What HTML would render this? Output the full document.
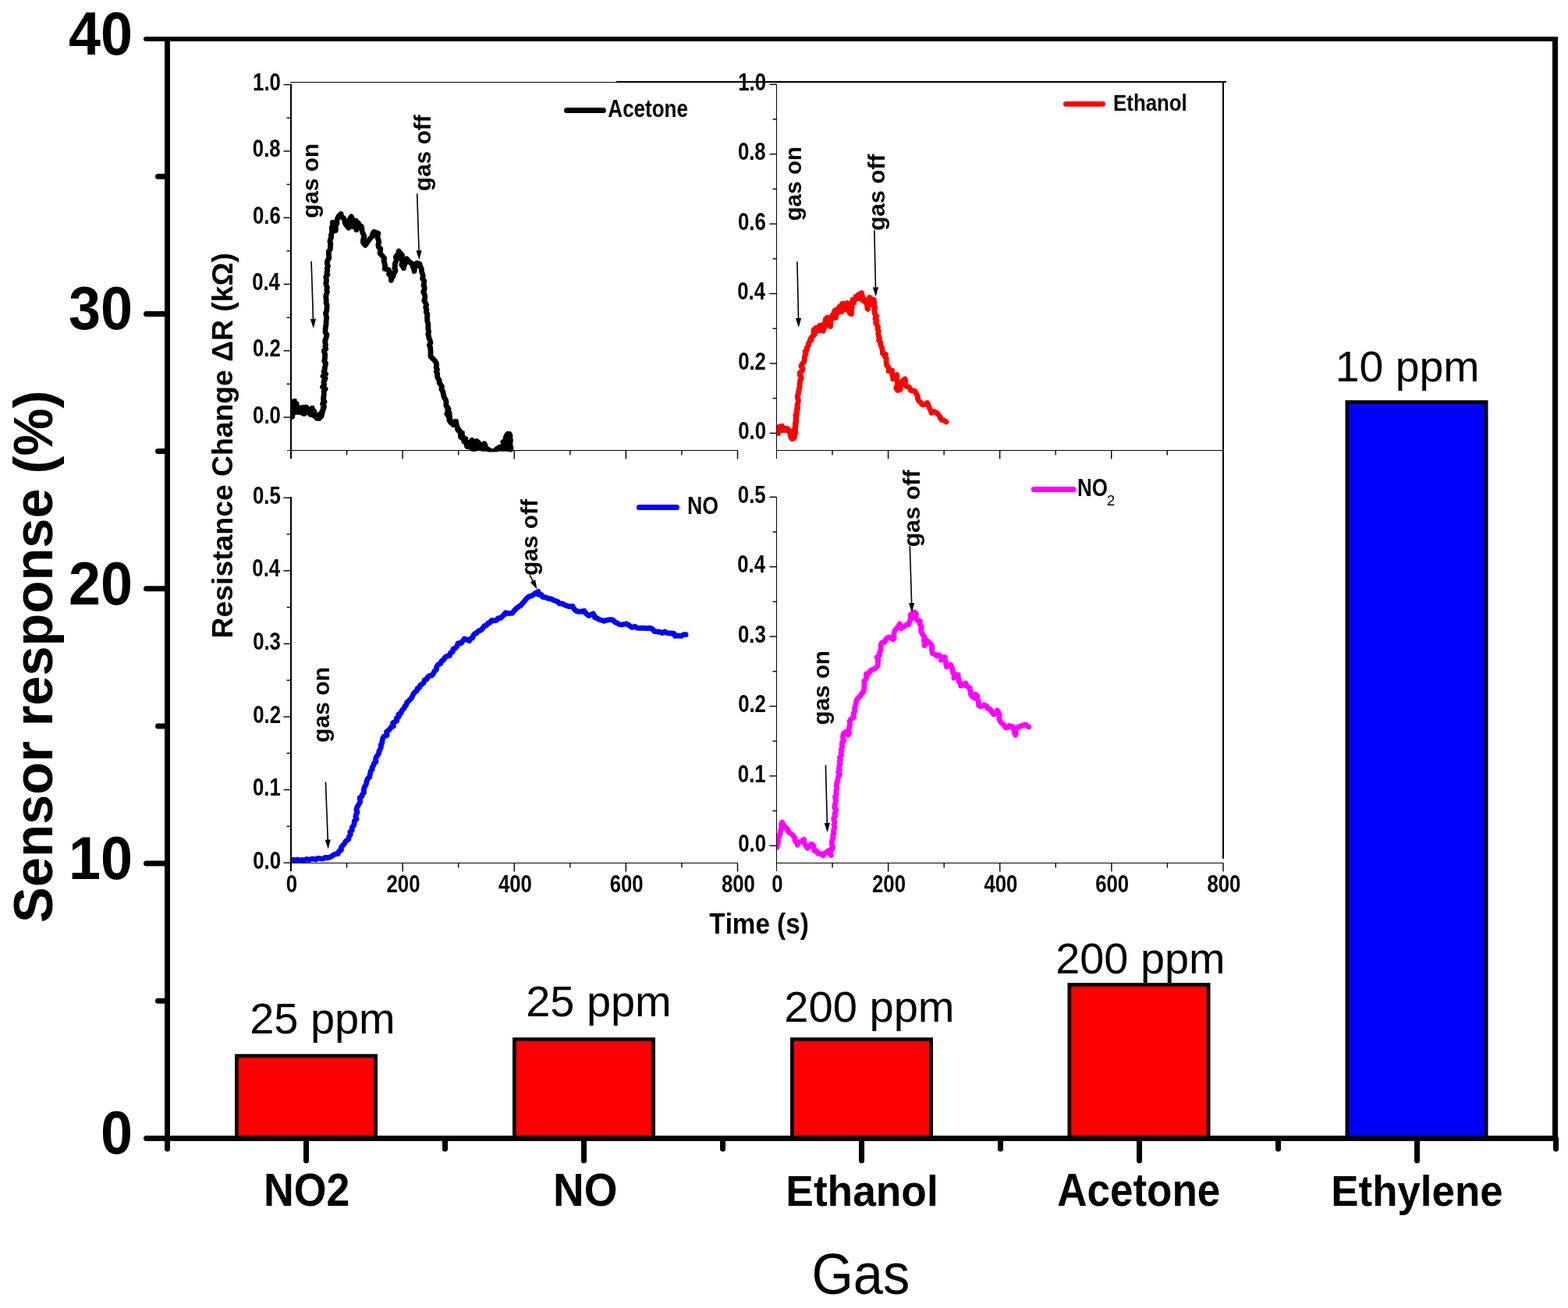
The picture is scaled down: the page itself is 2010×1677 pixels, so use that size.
<!DOCTYPE html>
<html><head><meta charset="utf-8"><title>Sensor response</title>
<style>html,body{margin:0;padding:0;background:#fff;}body{width:2010px;height:1677px;overflow:hidden;}svg{display:block;}text{font-kerning:none;}</style>
</head><body>
<svg width="2010" height="1677" viewBox="0 0 2010 1677" font-family="'Liberation Sans', Arial, Helvetica, sans-serif">
<rect width="2010" height="1677" fill="#fff"/>
<rect x="303.35" y="1353.75" width="178.30" height="105.75" fill="#ff0000" stroke="#000" stroke-width="4.7"/>
<rect x="659.35" y="1332.55" width="178.30" height="126.95" fill="#ff0000" stroke="#000" stroke-width="4.7"/>
<rect x="1015.35" y="1332.55" width="178.30" height="126.95" fill="#ff0000" stroke="#000" stroke-width="4.7"/>
<rect x="1370.85" y="1262.55" width="178.30" height="196.95" fill="#ff0000" stroke="#000" stroke-width="4.7"/>
<rect x="1726.85" y="515.55" width="178.30" height="943.95" fill="#0000ff" stroke="#000" stroke-width="4.7"/>
<rect x="211.00" y="47.00" width="7.00" height="1416.00" fill="#000"/>
<rect x="1990.00" y="47.00" width="7.00" height="1416.00" fill="#000"/>
<rect x="211.00" y="47.00" width="1786.00" height="6.00" fill="#000"/>
<rect x="211.00" y="1456.00" width="1786.00" height="7.00" fill="#000"/>
<line x1="187.50" y1="1459.50" x2="214.00" y2="1459.50" stroke="#000" stroke-width="7" stroke-linecap="round"/>
<line x1="187.50" y1="1107.12" x2="214.00" y2="1107.12" stroke="#000" stroke-width="7" stroke-linecap="round"/>
<line x1="187.50" y1="754.75" x2="214.00" y2="754.75" stroke="#000" stroke-width="7" stroke-linecap="round"/>
<line x1="187.50" y1="402.38" x2="214.00" y2="402.38" stroke="#000" stroke-width="7" stroke-linecap="round"/>
<line x1="187.00" y1="50.00" x2="214.00" y2="50.00" stroke="#000" stroke-width="6" stroke-linecap="round"/>
<line x1="202.50" y1="1283.31" x2="214.00" y2="1283.31" stroke="#000" stroke-width="7" stroke-linecap="round"/>
<line x1="202.50" y1="930.94" x2="214.00" y2="930.94" stroke="#000" stroke-width="7" stroke-linecap="round"/>
<line x1="202.50" y1="578.56" x2="214.00" y2="578.56" stroke="#000" stroke-width="7" stroke-linecap="round"/>
<line x1="202.50" y1="226.19" x2="214.00" y2="226.19" stroke="#000" stroke-width="7" stroke-linecap="round"/>
<line x1="392.50" y1="1460.00" x2="392.50" y2="1488.00" stroke="#000" stroke-width="7" stroke-linecap="round"/>
<line x1="748.50" y1="1460.00" x2="748.50" y2="1488.00" stroke="#000" stroke-width="7" stroke-linecap="round"/>
<line x1="1104.50" y1="1460.00" x2="1104.50" y2="1488.00" stroke="#000" stroke-width="7" stroke-linecap="round"/>
<line x1="1460.50" y1="1460.00" x2="1460.50" y2="1488.00" stroke="#000" stroke-width="7" stroke-linecap="round"/>
<line x1="1816.50" y1="1460.00" x2="1816.50" y2="1488.00" stroke="#000" stroke-width="7" stroke-linecap="round"/>
<line x1="214.50" y1="1460.00" x2="214.50" y2="1473.00" stroke="#000" stroke-width="7" stroke-linecap="round"/>
<line x1="570.50" y1="1460.00" x2="570.50" y2="1473.00" stroke="#000" stroke-width="7" stroke-linecap="round"/>
<line x1="926.50" y1="1460.00" x2="926.50" y2="1473.00" stroke="#000" stroke-width="7" stroke-linecap="round"/>
<line x1="1282.50" y1="1460.00" x2="1282.50" y2="1473.00" stroke="#000" stroke-width="7" stroke-linecap="round"/>
<line x1="1638.50" y1="1460.00" x2="1638.50" y2="1473.00" stroke="#000" stroke-width="7" stroke-linecap="round"/>
<line x1="1994.50" y1="1460.00" x2="1994.50" y2="1473.00" stroke="#000" stroke-width="7" stroke-linecap="round"/>
<text transform="translate(129.08,1479.34) scale(0.9501,1)" font-size="77.68" font-weight="bold" fill="#000">0</text>
<text transform="translate(88.03,1126.97) scale(0.9501,1)" font-size="77.68" font-weight="bold" fill="#000">10</text>
<text transform="translate(88.03,774.59) scale(0.9501,1)" font-size="77.68" font-weight="bold" fill="#000">20</text>
<text transform="translate(88.03,422.10) scale(0.9501,1)" font-size="77.68" font-weight="bold" fill="#000">30</text>
<text transform="translate(88.03,69.84) scale(0.9501,1)" font-size="77.68" font-weight="bold" fill="#000">40</text>
<text transform="translate(337.91,1546.03) scale(0.9177,1)" font-size="58.47" font-weight="bold" fill="#000">NO2</text>
<text transform="translate(709.12,1546.03) scale(0.9405,1)" font-size="58.47" font-weight="bold" fill="#000">NO</text>
<text transform="translate(1007.33,1546.25) scale(0.9478,1)" font-size="56.24" font-weight="bold" fill="#000">Ethanol</text>
<text transform="translate(1355.28,1546.22) scale(0.8951,1)" font-size="59.19" font-weight="bold" fill="#000">Acetone</text>
<text transform="translate(1706.37,1546.28) scale(0.9436,1)" font-size="56.00" font-weight="bold" fill="#000">Ethylene</text>
<text transform="translate(1040.45,1658.77) scale(0.9235,1)" font-size="74.29" font-weight="normal" fill="#000">Gas</text>
<text transform="translate(320.19,1325.39) scale(1.0170,1)" font-size="54.98" font-weight="normal" fill="#000">25 ppm</text>
<text transform="translate(674.19,1303.34) scale(1.0129,1)" font-size="55.20" font-weight="normal" fill="#000">25 ppm</text>
<text transform="translate(1005.28,1310.44) scale(1.0163,1)" font-size="55.20" font-weight="normal" fill="#000">200 ppm</text>
<text transform="translate(1353.29,1248.39) scale(1.0155,1)" font-size="54.98" font-weight="normal" fill="#000">200 ppm</text>
<text transform="translate(1711.68,489.29) scale(1.0081,1)" font-size="54.98" font-weight="normal" fill="#000">10 ppm</text>
<text transform="translate(66.51,1182.88) rotate(-90) scale(0.9821,1)" font-size="69.84" font-weight="bold">Sensor response (%)</text>
<defs>
<clipPath id="cp1"><rect x="374" y="104" width="571.5" height="475.5"/></clipPath>
<clipPath id="cp2"><rect x="996" y="104" width="571.8" height="473"/></clipPath>
<clipPath id="cp3"><rect x="374" y="633" width="571.5" height="473"/></clipPath>
<clipPath id="cp4"><rect x="996" y="633" width="572.0" height="473"/></clipPath>
</defs>
<rect x="372.00" y="108.00" width="2.00" height="480.00" fill="#000"/>
<rect x="368.00" y="577.00" width="578.00" height="1.00" fill="#000"/>
<rect x="363.50" y="534.30" width="8.50" height="1.40" fill="#000"/>
<text transform="translate(324.08,542.60) scale(0.8282,1)" font-size="31.07" font-weight="bold" fill="#000">0.0</text>
<rect x="367.50" y="491.65" width="4.50" height="1.40" fill="#000"/>
<rect x="363.50" y="449.00" width="8.50" height="1.40" fill="#000"/>
<text transform="translate(324.06,457.30) scale(0.8282,1)" font-size="31.07" font-weight="bold" fill="#000">0.2</text>
<rect x="367.50" y="406.35" width="4.50" height="1.40" fill="#000"/>
<rect x="363.50" y="363.70" width="8.50" height="1.40" fill="#000"/>
<text transform="translate(323.16,372.00) scale(0.8282,1)" font-size="31.07" font-weight="bold" fill="#000">0.4</text>
<rect x="367.50" y="321.05" width="4.50" height="1.40" fill="#000"/>
<rect x="363.50" y="278.40" width="8.50" height="1.40" fill="#000"/>
<text transform="translate(323.96,286.70) scale(0.8282,1)" font-size="31.07" font-weight="bold" fill="#000">0.6</text>
<rect x="367.50" y="235.75" width="4.50" height="1.40" fill="#000"/>
<rect x="363.50" y="193.10" width="8.50" height="1.40" fill="#000"/>
<text transform="translate(323.82,201.40) scale(0.8282,1)" font-size="31.07" font-weight="bold" fill="#000">0.8</text>
<rect x="367.50" y="150.45" width="4.50" height="1.40" fill="#000"/>
<rect x="363.50" y="107.80" width="8.50" height="1.40" fill="#000"/>
<text transform="translate(324.08,116.10) scale(0.8282,1)" font-size="31.07" font-weight="bold" fill="#000">1.0</text>
<rect x="443.86" y="578.00" width="1.40" height="5.50" fill="#000"/>
<rect x="515.42" y="578.00" width="1.40" height="10.50" fill="#000"/>
<rect x="586.99" y="578.00" width="1.40" height="5.50" fill="#000"/>
<rect x="658.55" y="578.00" width="1.40" height="10.50" fill="#000"/>
<rect x="730.11" y="578.00" width="1.40" height="5.50" fill="#000"/>
<rect x="801.67" y="578.00" width="1.40" height="10.50" fill="#000"/>
<rect x="873.24" y="578.00" width="1.40" height="5.50" fill="#000"/>
<rect x="944.80" y="578.00" width="1.40" height="10.50" fill="#000"/>
<rect x="995.00" y="108.00" width="1.00" height="480.00" fill="#000"/>
<rect x="995.00" y="577.00" width="573.30" height="1.00" fill="#000"/>
<rect x="986.50" y="554.70" width="8.50" height="1.40" fill="#000"/>
<text transform="translate(946.18,563.00) scale(0.8282,1)" font-size="31.07" font-weight="bold" fill="#000">0.0</text>
<rect x="990.50" y="509.97" width="4.50" height="1.40" fill="#000"/>
<rect x="986.50" y="465.25" width="8.50" height="1.40" fill="#000"/>
<text transform="translate(946.16,473.55) scale(0.8282,1)" font-size="31.07" font-weight="bold" fill="#000">0.2</text>
<rect x="990.50" y="420.52" width="4.50" height="1.40" fill="#000"/>
<rect x="986.50" y="375.80" width="8.50" height="1.40" fill="#000"/>
<text transform="translate(945.26,384.10) scale(0.8282,1)" font-size="31.07" font-weight="bold" fill="#000">0.4</text>
<rect x="990.50" y="331.07" width="4.50" height="1.40" fill="#000"/>
<rect x="986.50" y="286.35" width="8.50" height="1.40" fill="#000"/>
<text transform="translate(946.06,294.65) scale(0.8282,1)" font-size="31.07" font-weight="bold" fill="#000">0.6</text>
<rect x="990.50" y="241.62" width="4.50" height="1.40" fill="#000"/>
<rect x="986.50" y="196.90" width="8.50" height="1.40" fill="#000"/>
<text transform="translate(945.92,205.20) scale(0.8282,1)" font-size="31.07" font-weight="bold" fill="#000">0.8</text>
<rect x="990.50" y="152.17" width="4.50" height="1.40" fill="#000"/>
<rect x="986.50" y="107.45" width="8.50" height="1.40" fill="#000"/>
<text transform="translate(946.18,115.75) scale(0.8282,1)" font-size="31.07" font-weight="bold" fill="#000">1.0</text>
<rect x="1066.34" y="578.00" width="1.40" height="5.50" fill="#000"/>
<rect x="1137.88" y="578.00" width="1.40" height="10.50" fill="#000"/>
<rect x="1209.41" y="578.00" width="1.40" height="5.50" fill="#000"/>
<rect x="1280.95" y="578.00" width="1.40" height="10.50" fill="#000"/>
<rect x="1352.49" y="578.00" width="1.40" height="5.50" fill="#000"/>
<rect x="1424.02" y="578.00" width="1.40" height="10.50" fill="#000"/>
<rect x="1495.56" y="578.00" width="1.40" height="5.50" fill="#000"/>
<rect x="1567.10" y="578.00" width="1.40" height="10.50" fill="#000"/>
<rect x="372.00" y="637.00" width="2.00" height="480.00" fill="#000"/>
<rect x="372.00" y="1106.00" width="574.00" height="1.00" fill="#000"/>
<rect x="363.50" y="1105.50" width="8.50" height="1.40" fill="#000"/>
<text transform="translate(324.28,1113.80) scale(0.8282,1)" font-size="31.07" font-weight="bold" fill="#000">0.0</text>
<rect x="367.50" y="1058.70" width="4.50" height="1.40" fill="#000"/>
<rect x="363.50" y="1011.90" width="8.50" height="1.40" fill="#000"/>
<text transform="translate(323.94,1020.20) scale(0.8282,1)" font-size="31.07" font-weight="bold" fill="#000">0.1</text>
<rect x="367.50" y="965.10" width="4.50" height="1.40" fill="#000"/>
<rect x="363.50" y="918.30" width="8.50" height="1.40" fill="#000"/>
<text transform="translate(324.26,926.60) scale(0.8282,1)" font-size="31.07" font-weight="bold" fill="#000">0.2</text>
<rect x="367.50" y="871.50" width="4.50" height="1.40" fill="#000"/>
<rect x="363.50" y="824.70" width="8.50" height="1.40" fill="#000"/>
<text transform="translate(324.16,832.95) scale(0.8282,1)" font-size="31.07" font-weight="bold" fill="#000">0.3</text>
<rect x="367.50" y="777.90" width="4.50" height="1.40" fill="#000"/>
<rect x="363.50" y="731.10" width="8.50" height="1.40" fill="#000"/>
<text transform="translate(323.36,739.40) scale(0.8282,1)" font-size="31.07" font-weight="bold" fill="#000">0.4</text>
<rect x="367.50" y="684.30" width="4.50" height="1.40" fill="#000"/>
<rect x="363.50" y="637.50" width="8.50" height="1.40" fill="#000"/>
<text transform="translate(323.94,645.80) scale(0.8282,1)" font-size="31.07" font-weight="bold" fill="#000">0.5</text>
<rect x="443.86" y="1107.00" width="1.40" height="5.50" fill="#000"/>
<rect x="515.42" y="1107.00" width="1.40" height="10.50" fill="#000"/>
<rect x="586.99" y="1107.00" width="1.40" height="5.50" fill="#000"/>
<rect x="658.55" y="1107.00" width="1.40" height="10.50" fill="#000"/>
<rect x="730.11" y="1107.00" width="1.40" height="5.50" fill="#000"/>
<rect x="801.67" y="1107.00" width="1.40" height="10.50" fill="#000"/>
<rect x="873.24" y="1107.00" width="1.40" height="5.50" fill="#000"/>
<rect x="944.80" y="1107.00" width="1.40" height="10.50" fill="#000"/>
<text transform="translate(366.66,1143.80) scale(0.8282,1)" font-size="31.07" font-weight="bold" fill="#000">0</text>
<text transform="translate(495.54,1143.80) scale(0.8282,1)" font-size="31.07" font-weight="bold" fill="#000">200</text>
<text transform="translate(638.92,1143.80) scale(0.8282,1)" font-size="31.07" font-weight="bold" fill="#000">400</text>
<text transform="translate(781.76,1143.80) scale(0.8282,1)" font-size="31.07" font-weight="bold" fill="#000">600</text>
<text transform="translate(924.95,1143.80) scale(0.8282,1)" font-size="31.07" font-weight="bold" fill="#000">800</text>
<rect x="995.00" y="637.00" width="1.00" height="480.00" fill="#000"/>
<rect x="995.00" y="1106.00" width="573.50" height="1.00" fill="#000"/>
<rect x="986.50" y="1083.60" width="8.50" height="1.40" fill="#000"/>
<text transform="translate(946.18,1091.90) scale(0.8282,1)" font-size="31.07" font-weight="bold" fill="#000">0.0</text>
<rect x="990.50" y="1038.90" width="4.50" height="1.40" fill="#000"/>
<rect x="986.50" y="994.20" width="8.50" height="1.40" fill="#000"/>
<text transform="translate(945.84,1002.50) scale(0.8282,1)" font-size="31.07" font-weight="bold" fill="#000">0.1</text>
<rect x="990.50" y="949.50" width="4.50" height="1.40" fill="#000"/>
<rect x="986.50" y="904.80" width="8.50" height="1.40" fill="#000"/>
<text transform="translate(946.16,913.10) scale(0.8282,1)" font-size="31.07" font-weight="bold" fill="#000">0.2</text>
<rect x="990.50" y="860.10" width="4.50" height="1.40" fill="#000"/>
<rect x="986.50" y="815.40" width="8.50" height="1.40" fill="#000"/>
<text transform="translate(946.06,823.65) scale(0.8282,1)" font-size="31.07" font-weight="bold" fill="#000">0.3</text>
<rect x="990.50" y="770.70" width="4.50" height="1.40" fill="#000"/>
<rect x="986.50" y="726.00" width="8.50" height="1.40" fill="#000"/>
<text transform="translate(945.26,734.30) scale(0.8282,1)" font-size="31.07" font-weight="bold" fill="#000">0.4</text>
<rect x="990.50" y="681.30" width="4.50" height="1.40" fill="#000"/>
<rect x="986.50" y="636.60" width="8.50" height="1.40" fill="#000"/>
<text transform="translate(945.84,644.90) scale(0.8282,1)" font-size="31.07" font-weight="bold" fill="#000">0.5</text>
<rect x="1066.36" y="1107.00" width="1.40" height="5.50" fill="#000"/>
<rect x="1137.92" y="1107.00" width="1.40" height="10.50" fill="#000"/>
<rect x="1209.49" y="1107.00" width="1.40" height="5.50" fill="#000"/>
<rect x="1281.05" y="1107.00" width="1.40" height="10.50" fill="#000"/>
<rect x="1352.61" y="1107.00" width="1.40" height="5.50" fill="#000"/>
<rect x="1424.17" y="1107.00" width="1.40" height="10.50" fill="#000"/>
<rect x="1495.74" y="1107.00" width="1.40" height="5.50" fill="#000"/>
<rect x="1567.30" y="1107.00" width="1.40" height="10.50" fill="#000"/>
<text transform="translate(989.16,1143.80) scale(0.8282,1)" font-size="31.07" font-weight="bold" fill="#000">0</text>
<text transform="translate(1118.04,1143.80) scale(0.8282,1)" font-size="31.07" font-weight="bold" fill="#000">200</text>
<text transform="translate(1261.42,1143.80) scale(0.8282,1)" font-size="31.07" font-weight="bold" fill="#000">400</text>
<text transform="translate(1404.26,1143.80) scale(0.8282,1)" font-size="31.07" font-weight="bold" fill="#000">600</text>
<text transform="translate(1547.45,1143.80) scale(0.8282,1)" font-size="31.07" font-weight="bold" fill="#000">800</text>
<rect x="372.00" y="105.00" width="418.00" height="1.00" fill="#000"/>
<rect x="790.00" y="104.00" width="782.00" height="2.00" fill="#000"/>
<rect x="1567.00" y="104.00" width="2.00" height="997.00" fill="#000"/>
<path d="M374.5,533.8 L374.6,530.7 L375.5,527.8 L372.9,524.4 L375.4,521.7 L376.9,518.9 L376.6,516.1 L378.5,518.8 L379.6,521.8 L380.6,525.2 L384.2,526.4 L388.5,528.0 L390.9,525.5 L392.4,522.1 L394.6,525.3 L397.6,529.1 L399.4,525.4 L401.3,527.6 L402.8,529.9 L405.1,531.8 L408.7,535.7 L409.5,532.6 L411.0,530.0 L413.0,528.3 L413.9,525.7 L415.1,523.1 L415.3,520.4 L413.5,517.6 L416.1,515.1 L414.5,512.3 L414.8,509.6 L415.1,506.9 L415.3,504.2 L415.1,501.5 L417.1,498.8 L413.5,496.0 L415.6,493.3 L414.9,490.5 L415.7,487.8 L417.1,485.1 L414.0,482.2 L417.6,479.6 L415.1,476.7 L416.2,474.0 L416.4,471.3 L417.1,468.5 L417.6,465.8 L415.7,463.1 L416.2,460.5 L416.5,457.9 L416.7,455.2 L416.2,452.6 L415.2,449.9 L417.7,447.4 L416.8,444.7 L417.5,442.1 L416.8,439.4 L416.8,436.8 L417.7,434.2 L418.4,431.6 L419.0,429.0 L417.0,426.3 L417.1,423.7 L417.1,421.0 L417.6,418.3 L418.1,415.5 L418.0,412.8 L418.3,410.0 L418.6,407.3 L418.1,404.5 L417.4,401.7 L418.6,399.0 L418.9,396.3 L419.2,393.5 L419.0,390.8 L418.0,388.0 L418.3,385.2 L418.0,382.5 L417.7,379.7 L418.5,377.0 L419.4,374.3 L418.8,371.5 L419.4,368.7 L418.4,366.0 L417.7,363.2 L418.6,360.5 L418.3,357.7 L417.7,354.9 L420.0,352.2 L418.8,349.4 L419.8,346.8 L419.2,344.1 L420.5,341.5 L419.6,338.7 L419.3,336.0 L420.2,333.4 L421.9,330.8 L421.5,328.1 L421.4,325.3 L421.3,322.7 L423.4,319.4 L423.4,315.4 L423.9,312.7 L422.9,309.7 L423.6,306.9 L424.7,304.2 L424.4,301.4 L425.4,298.6 L425.6,295.8 L425.2,293.1 L425.7,290.4 L426.8,287.8 L426.3,285.1 L427.8,287.6 L428.2,290.6 L428.8,293.5 L430.2,295.7 L430.4,292.6 L430.1,289.4 L432.0,286.4 L431.8,283.3 L432.6,280.3 L433.9,277.5 L437.2,274.3 L437.6,277.9 L440.7,279.7 L441.7,282.6 L442.1,285.7 L443.7,288.3 L447.0,292.2 L448.5,289.5 L448.6,286.6 L448.4,283.6 L448.4,280.6 L450.4,277.7 L451.6,280.8 L450.0,284.4 L451.4,287.3 L452.2,290.4 L454.7,287.2 L456.2,283.0 L454.4,286.5 L456.9,288.9 L456.8,292.0 L456.9,294.7 L458.4,291.6 L459.2,288.2 L459.1,285.7 L460.3,288.4 L463.4,290.3 L463.9,294.0 L464.6,297.6 L465.7,300.2 L467.0,302.7 L466.0,305.7 L465.4,308.5 L465.5,311.2 L468.2,314.4 L471.3,310.3 L472.9,307.5 L475.2,305.1 L477.4,303.1 L477.6,299.9 L479.3,297.1 L484.9,299.2 L484.1,302.2 L484.1,305.1 L485.3,307.9 L485.7,310.7 L484.8,313.8 L485.3,316.6 L487.8,318.8 L487.5,321.7 L487.1,324.8 L490.0,327.8 L492.7,331.2 L492.0,334.6 L493.0,337.6 L493.6,340.8 L493.2,344.7 L498.2,345.8 L499.3,348.4 L498.5,351.5 L501.1,353.7 L501.4,356.5 L501.4,359.3 L501.9,356.5 L504.1,354.5 L504.2,351.6 L505.6,349.4 L507.0,346.8 L505.8,343.8 L506.4,341.1 L506.3,338.2 L507.4,335.5 L508.4,332.8 L507.3,329.9 L508.7,327.2 L510.7,326.4 L511.2,321.9 L513.0,324.6 L515.5,327.2 L514.1,330.5 L515.1,333.4 L515.8,336.3 L514.8,339.5 L516.9,342.1 L517.4,343.9 L518.0,340.7 L519.4,337.7 L521.1,334.8 L521.2,331.6 L523.1,333.9 L525.3,336.3 L528.8,338.2 L528.9,341.6 L530.6,344.4 L531.1,347.7 L531.3,344.8 L531.9,342.0 L535.1,340.1 L534.4,337.2 L538.1,338.4 L538.5,341.7 L540.3,344.5 L540.3,347.8 L541.4,350.8 L542.3,353.9 L541.6,357.2 L543.7,360.1 L543.5,362.9 L543.0,365.8 L544.2,368.5 L544.0,371.3 L542.6,374.2 L544.0,376.9 L544.8,379.6 L544.7,382.4 L543.8,385.4 L545.3,388.1 L546.6,391.0 L545.6,394.2 L547.0,397.0 L546.3,400.1 L547.8,402.8 L547.6,405.7 L547.6,408.5 L547.7,411.4 L548.5,414.1 L549.0,417.0 L548.7,419.8 L549.0,422.7 L549.6,425.5 L548.8,428.4 L549.5,431.2 L550.1,434.0 L551.3,436.7 L552.0,439.5 L550.3,442.6 L551.7,445.3 L551.8,448.1 L552.1,451.0 L552.0,453.8 L552.0,457.0 L555.5,460.5 L557.7,462.9 L559.3,465.7 L559.6,468.4 L559.1,471.2 L560.5,473.8 L559.2,476.7 L560.8,479.2 L560.4,482.5 L561.6,485.3 L563.2,487.8 L563.2,490.9 L564.8,492.9 L566.5,495.7 L565.9,499.1 L567.7,501.8 L568.3,505.4 L569.2,509.0 L571.6,513.3 L572.0,516.1 L571.7,519.1 L572.9,521.8 L575.0,524.3 L574.5,527.4 L572.8,530.6 L574.6,533.2 L576.0,535.9 L575.9,539.0 L577.8,540.7 L582.7,543.3 L584.4,540.4 L584.7,543.5 L585.7,546.4 L586.8,548.8 L587.8,552.0 L590.5,553.8 L592.0,558.7 L594.9,562.9 L596.9,567.6 L599.0,571.3 L601.8,572.3 L603.9,569.2 L604.3,565.3 L604.2,568.1 L606.4,570.4 L605.3,573.9 L607.8,575.5 L607.7,572.2 L610.3,569.7 L611.1,565.5 L614.3,568.4 L616.1,573.7 L618.3,571.7 L620.9,568.8 L622.1,571.5 L622.2,574.6 L625.2,575.7 L628.3,577.8 L632.6,579.4 L635.6,576.6 L637.7,574.9 L640.0,573.8 L643.4,572.3 L645.0,573.2 L646.7,570.3 L644.8,566.7 L648.2,564.1 L648.2,561.0 L650.1,556.8 L653.1,556.3 L654.1,558.8 L653.4,561.6 L654.5,564.2 L654.0,567.4 L653.7,570.5 L655.0,573.5 L654.6,576.7" fill="none" stroke="#000000" stroke-width="6.8" stroke-linejoin="round" stroke-linecap="round" clip-path="url(#cp1)"/>
<path d="M995.9,551.6 L997.7,550.0 L1001.4,548.6 L1005.0,549.1 L1008.8,549.9 L1012.4,553.9 L1013.0,557.5 L1014.0,560.4 L1017.2,558.0 L1020.0,555.3 L1018.5,552.0 L1018.7,549.0 L1019.9,546.0 L1019.5,543.3 L1020.8,540.7 L1020.4,538.0 L1020.7,535.3 L1019.8,532.5 L1021.2,529.9 L1021.6,527.2 L1022.1,524.6 L1022.4,521.7 L1022.0,518.7 L1023.1,515.9 L1023.4,513.0 L1022.3,510.0 L1022.4,507.1 L1023.6,504.3 L1023.7,501.5 L1024.4,498.7 L1025.1,495.9 L1025.0,492.9 L1025.4,489.9 L1026.0,487.0 L1027.3,484.1 L1025.4,480.8 L1025.2,477.9 L1028.2,475.6 L1029.2,472.9 L1026.9,469.6 L1028.1,466.9 L1030.4,464.5 L1031.4,461.8 L1031.2,458.8 L1031.7,455.9 L1033.2,453.6 L1032.1,450.5 L1034.5,448.4 L1034.4,445.6 L1036.3,443.3 L1036.5,440.5 L1037.9,438.0 L1038.9,434.6 L1041.0,431.6 L1043.0,429.7 L1043.0,426.7 L1042.9,423.0 L1048.0,420.9 L1051.2,417.6 L1051.9,421.6 L1054.7,421.6 L1057.4,418.8 L1057.5,415.4 L1058.4,411.9 L1058.3,409.3 L1060.9,412.2 L1063.1,415.0 L1064.1,412.4 L1065.3,409.8 L1066.9,406.9 L1068.9,404.2 L1069.0,400.3 L1072.4,403.4 L1072.4,400.5 L1073.2,397.9 L1075.3,396.0 L1077.7,393.5 L1079.1,390.2 L1080.8,392.8 L1081.7,395.0 L1084.0,392.1 L1085.7,388.9 L1085.7,392.5 L1088.8,394.8 L1089.0,399.2 L1091.1,399.3 L1091.8,396.3 L1092.4,393.3 L1091.8,389.9 L1093.7,387.6 L1095.3,385.2 L1097.1,382.4 L1098.7,379.3 L1101.5,377.7 L1104.5,375.6 L1105.0,379.2 L1106.9,382.2 L1108.9,386.5 L1111.2,389.2 L1111.6,392.3 L1111.9,395.4 L1112.6,392.8 L1115.0,390.6 L1112.7,387.4 L1112.9,384.7 L1114.6,382.3 L1117.8,383.6 L1120.5,386.3 L1121.1,389.1 L1120.1,391.9 L1121.9,394.6 L1120.8,397.5 L1121.1,400.3 L1122.1,403.1 L1123.8,405.7 L1121.9,408.7 L1124.0,411.0 L1122.5,413.9 L1124.0,416.4 L1125.6,418.8 L1125.0,421.9 L1126.3,424.6 L1125.7,427.7 L1126.3,430.6 L1127.4,433.4 L1126.6,436.6 L1128.9,439.2 L1128.8,442.3 L1130.3,445.1 L1130.8,447.7 L1131.3,450.4 L1131.5,453.5 L1135.3,454.4 L1134.4,457.2 L1136.2,459.6 L1136.1,462.4 L1136.2,465.1 L1136.6,468.3 L1139.2,470.9 L1139.0,475.5 L1143.7,475.2 L1143.7,478.0 L1143.7,480.7 L1144.5,483.2 L1144.7,485.9 L1146.4,483.0 L1149.8,480.5 L1149.7,483.4 L1149.7,486.2 L1150.2,489.0 L1150.6,491.8 L1149.8,494.7 L1148.7,497.7 L1150.8,500.6 L1154.3,499.3 L1153.7,495.9 L1155.0,493.1 L1156.8,490.5 L1157.0,488.3 L1160.0,485.9 L1160.9,488.4 L1160.1,491.4 L1160.9,495.0 L1165.3,496.3 L1167.6,500.7 L1170.4,500.9 L1173.0,501.6 L1174.5,504.8 L1176.3,507.9 L1176.4,511.1 L1177.6,513.8 L1179.8,515.8 L1181.7,517.8 L1182.9,519.0 L1185.6,518.4 L1188.7,516.5 L1190.4,520.3 L1191.5,523.3 L1193.0,526.1 L1193.9,529.2 L1198.0,527.7 L1201.9,530.4 L1204.2,533.2 L1205.5,535.9 L1207.1,538.3 L1211.0,539.6 L1213.0,541.0" fill="none" stroke="#ff0000" stroke-width="6.8" stroke-linejoin="round" stroke-linecap="round" clip-path="url(#cp2)"/>
<path d="M373.5,1102.6 L376.2,1102.5 L379.0,1102.8 L381.7,1102.1 L384.5,1103.6 L387.2,1102.3 L390.0,1103.4 L392.9,1101.4 L395.9,1102.4 L398.8,1101.5 L401.8,1101.2 L404.8,1102.0 L407.9,1100.3 L411.0,1100.9 L414.2,1101.2 L416.9,1099.3 L420.0,1099.8 L422.8,1099.2 L426.1,1097.3 L429.0,1095.1 L433.2,1094.7 L434.6,1091.3 L437.4,1090.0 L437.3,1086.5 L439.0,1084.5 L441.5,1081.6 L443.3,1078.3 L446.7,1076.2 L447.5,1072.5 L449.3,1069.9 L448.8,1066.5 L451.4,1064.2 L451.2,1061.0 L453.3,1058.5 L454.2,1055.5 L454.2,1052.6 L457.1,1050.2 L455.8,1047.0 L456.6,1044.2 L458.0,1041.5 L456.8,1038.3 L457.7,1035.4 L458.7,1033.0 L460.2,1030.8 L461.5,1028.4 L461.7,1025.7 L461.1,1022.8 L464.0,1021.0 L464.4,1018.4 L466.5,1016.4 L466.1,1013.4 L466.8,1010.9 L467.6,1008.3 L469.2,1006.1 L469.7,1003.5 L470.3,1000.9 L471.2,998.4 L473.6,996.5 L474.1,993.8 L474.7,991.2 L475.2,988.5 L477.2,986.4 L477.1,983.5 L478.8,981.3 L479.4,978.6 L482.0,976.8 L481.5,973.5 L482.2,970.8 L483.9,968.5 L485.6,966.1 L485.9,963.2 L487.1,960.7 L488.4,958.2 L488.2,955.1 L489.7,952.7 L490.0,949.9 L490.6,946.9 L492.1,944.1 L496.1,942.7 L495.4,938.5 L498.0,936.4 L500.0,934.4 L501.5,932.2 L504.4,930.9 L503.5,927.0 L506.1,925.5 L508.7,924.1 L508.4,920.5 L511.2,919.2 L510.8,915.8 L513.8,914.6 L514.7,911.9 L516.2,909.8 L518.2,907.9 L519.1,905.3 L521.0,903.3 L521.7,900.4 L523.9,898.7 L525.8,896.7 L527.6,894.7 L528.8,892.2 L530.0,889.5 L531.8,887.4 L534.2,885.7 L535.1,882.7 L537.9,881.4 L538.7,878.4 L541.5,877.0 L543.3,874.8 L544.2,871.9 L547.0,870.8 L548.4,868.2 L550.6,866.4 L553.7,866.0 L555.5,863.6 L556.9,860.7 L559.4,858.3 L559.8,854.8 L561.5,852.1 L564.8,850.9 L565.9,847.7 L568.6,846.0 L570.2,843.2 L572.7,841.3 L576.5,840.6 L577.3,837.0 L580.3,835.6 L581.0,831.9 L584.3,830.8 L586.0,828.1 L587.1,824.7 L591.3,824.5 L593.1,821.9 L595.2,818.9 L598.5,820.0 L601.6,821.6 L603.0,819.1 L605.8,817.7 L606.7,814.8 L608.4,812.6 L611.0,811.4 L613.3,809.0 L616.4,808.0 L618.7,805.6 L620.5,802.8 L623.5,801.8 L625.2,799.3 L628.1,798.2 L630.0,795.3 L633.3,795.8 L636.4,795.4 L638.5,792.7 L641.8,792.4 L643.8,790.3 L645.9,788.4 L648.0,785.6 L650.9,786.4 L653.8,786.3 L656.7,786.2 L659.7,782.2 L662.2,779.9 L664.8,777.8 L667.6,776.3 L669.6,773.8 L671.6,771.5 L673.6,769.1 L675.6,766.8 L678.0,764.8 L681.2,764.1 L684.0,762.4 L686.4,760.4 L690.0,758.4 L690.4,762.3 L694.0,762.4 L695.6,765.3 L699.4,765.9 L702.9,767.4 L706.7,767.9 L710.0,769.7 L712.6,770.7 L715.2,771.7 L717.2,773.8 L721.0,774.0 L724.3,775.8 L726.8,776.7 L729.2,777.7 L734.0,777.2 L735.7,780.5 L738.7,783.4 L741.8,784.1 L745.1,784.1 L748.8,783.2 L751.1,786.4 L754.6,789.3 L757.5,788.1 L760.3,786.7 L761.7,789.1 L762.6,791.8 L765.4,792.5 L768.2,794.5 L771.6,795.3 L774.4,796.3 L778.1,795.1 L781.5,794.5 L785.6,794.8 L788.4,797.6 L791.2,798.8 L793.7,800.5 L796.9,801.0 L800.1,800.2 L803.5,800.0 L805.9,801.2 L807.9,803.1 L810.4,804.4 L813.8,803.2 L816.8,805.1 L820.0,805.4 L823.7,805.2 L826.8,805.3 L830.2,805.6 L832.8,805.1 L836.3,806.5 L838.9,809.4 L842.7,810.0 L846.3,810.4 L849.1,811.6 L852.0,809.8 L854.9,811.5 L857.7,812.0 L860.1,811.8 L863.7,812.1 L865.3,815.4 L868.2,814.8 L870.9,815.2 L873.7,815.3 L876.2,813.7 L879.1,813.6" fill="none" stroke="#0000ff" stroke-width="6.8" stroke-linejoin="round" stroke-linecap="round" clip-path="url(#cp3)"/>
<path d="M996.1,1086.4 L996.0,1083.7 L997.3,1081.2 L997.5,1078.5 L997.8,1075.9 L998.0,1073.2 L999.2,1070.7 L1000.3,1068.2 L1000.5,1065.3 L1001.5,1062.5 L1001.6,1059.6 L1001.5,1056.6 L1002.7,1054.3 L1004.3,1057.7 L1006.4,1060.6 L1009.3,1062.5 L1010.1,1065.8 L1012.4,1068.0 L1016.0,1070.3 L1017.5,1072.6 L1019.2,1074.7 L1019.0,1077.7 L1021.1,1079.7 L1022.2,1083.3 L1023.5,1079.8 L1026.8,1079.0 L1030.6,1076.3 L1030.3,1079.4 L1031.7,1081.7 L1032.9,1084.2 L1035.3,1087.3 L1037.4,1084.7 L1040.0,1082.2 L1042.8,1084.2 L1042.9,1087.5 L1043.7,1090.6 L1046.7,1090.9 L1048.0,1094.0 L1051.1,1094.1 L1055.2,1096.8 L1056.7,1094.3 L1059.3,1093.0 L1063.3,1089.8 L1063.2,1093.7 L1065.5,1096.6 L1064.4,1093.6 L1064.3,1090.8 L1067.3,1088.4 L1067.5,1085.5 L1066.4,1082.5 L1066.3,1079.7 L1066.9,1076.9 L1068.2,1074.3 L1067.5,1071.4 L1069.1,1068.8 L1068.4,1065.9 L1069.0,1063.2 L1070.0,1060.5 L1069.0,1057.7 L1070.0,1054.9 L1069.3,1052.1 L1068.7,1049.3 L1070.7,1046.6 L1069.9,1043.8 L1071.0,1041.1 L1072.0,1038.4 L1069.7,1035.5 L1070.1,1032.7 L1070.9,1030.0 L1071.5,1027.3 L1071.3,1024.5 L1070.5,1021.6 L1072.1,1019.0 L1071.8,1016.2 L1071.9,1013.4 L1073.0,1010.6 L1072.2,1007.5 L1072.6,1004.6 L1073.6,1001.8 L1074.0,998.9 L1074.6,996.0 L1076.5,993.3 L1074.6,990.3 L1076.2,987.6 L1075.5,984.8 L1075.9,982.0 L1077.2,979.4 L1076.2,976.5 L1077.5,973.8 L1076.4,970.9 L1078.7,968.3 L1078.2,965.5 L1078.6,962.8 L1078.6,960.1 L1079.8,957.6 L1079.2,954.8 L1079.4,952.2 L1081.7,949.9 L1080.7,947.0 L1080.6,944.1 L1081.2,940.6 L1084.3,938.4 L1087.1,942.4 L1088.6,939.6 L1087.9,936.6 L1088.5,933.7 L1088.9,930.8 L1089.7,928.0 L1089.0,924.9 L1090.5,922.3 L1094.2,920.3 L1094.2,917.2 L1094.3,914.2 L1096.1,911.6 L1095.5,908.5 L1096.4,905.6 L1097.1,902.8 L1097.5,899.8 L1098.6,896.4 L1101.0,894.0 L1103.4,891.6 L1104.7,888.9 L1107.1,886.7 L1107.5,883.6 L1107.8,880.2 L1108.2,876.8 L1107.8,873.1 L1110.1,870.9 L1110.9,868.1 L1110.4,864.0 L1113.8,863.4 L1115.1,860.6 L1117.5,858.9 L1121.1,857.6 L1124.0,855.2 L1125.5,852.3 L1125.3,849.2 L1125.9,846.1 L1124.1,842.6 L1127.4,840.5 L1127.3,837.6 L1128.5,835.0 L1129.1,832.3 L1129.2,829.5 L1129.3,826.2 L1130.6,823.9 L1134.1,823.4 L1135.0,820.6 L1137.1,818.0 L1139.8,817.0 L1145.0,819.9 L1146.2,817.2 L1145.8,814.2 L1146.2,811.4 L1146.8,809.0 L1148.6,806.7 L1150.7,804.4 L1153.4,799.9 L1153.5,803.7 L1155.2,805.7 L1158.2,803.7 L1161.3,801.5 L1165.1,800.5 L1165.7,797.4 L1167.2,794.4 L1167.2,791.3 L1167.1,788.3 L1170.0,786.2 L1172.2,784.8 L1174.5,787.2 L1173.9,790.0 L1173.4,793.0 L1175.7,795.0 L1179.5,796.5 L1179.1,800.6 L1181.4,803.8 L1180.5,806.9 L1180.8,809.7 L1182.0,812.3 L1183.6,814.8 L1185.5,817.4 L1184.2,821.0 L1185.7,824.3 L1184.9,827.7 L1187.5,824.7 L1188.3,821.3 L1191.0,823.6 L1193.8,826.4 L1194.8,830.0 L1194.4,833.8 L1195.5,837.8 L1198.8,839.1 L1200.8,841.1 L1202.7,839.7 L1206.0,841.5 L1206.4,844.4 L1206.5,846.3 L1209.7,845.0 L1211.5,842.5 L1210.8,845.8 L1212.5,848.8 L1212.6,851.9 L1213.5,855.1 L1218.5,852.4 L1220.3,855.8 L1220.9,859.6 L1221.6,862.6 L1223.2,865.4 L1222.9,869.2 L1224.7,865.8 L1228.2,865.2 L1228.1,868.1 L1229.2,870.7 L1228.9,873.7 L1231.2,876.0 L1231.7,879.1 L1234.7,878.5 L1237.8,876.0 L1239.3,879.8 L1243.3,881.9 L1243.4,884.6 L1244.5,887.1 L1244.3,889.9 L1245.5,891.9 L1248.9,894.8 L1249.6,892.1 L1250.5,890.3 L1253.0,892.7 L1252.3,895.9 L1254.1,898.5 L1254.4,901.4 L1254.5,904.4 L1257.0,905.8 L1261.1,904.1 L1264.7,905.0 L1265.7,907.9 L1269.8,909.6 L1270.9,912.0 L1272.4,914.1 L1273.8,915.9 L1277.4,914.0 L1278.2,910.7 L1279.9,913.2 L1281.0,915.8 L1281.1,918.6 L1280.9,921.4 L1281.7,923.9 L1283.7,926.9 L1286.7,929.0 L1289.3,933.1 L1292.5,932.6 L1293.6,930.4 L1298.4,932.0 L1299.1,934.6 L1300.2,937.0 L1300.5,939.7 L1301.8,942.4 L1302.4,939.8 L1301.9,936.9 L1303.0,934.5 L1304.5,932.9 L1308.6,930.9 L1311.5,930.0 L1314.6,929.1 L1318.8,932.0" fill="none" stroke="#ff00ff" stroke-width="6.8" stroke-linejoin="round" stroke-linecap="round" clip-path="url(#cp4)"/>
<polygon points="576.7,520.0 577.0,524.0 578.0,524.0 578.2,527.0 579.2,527.0 579.5,530.2 580.0,536.9 581.2,538.2 582.2,537.2 586.7,537.2 587.7,539.2 587.9,543.1 588.9,543.4 588.9,547.9 590.4,548.1 591.9,550.6 593.1,552.1 595.6,553.1 595.9,558.1 597.1,559.1 599.9,560.3 600.1,564.0 601.8,564.0 602.3,562.0 603.8,561.0 606.1,561.0 608.1,562.3 608.1,564.0 609.8,564.0 610.5,563.0 612.3,563.0 613.8,564.0 615.3,565.0 617.0,568.0 618.5,567.0 619.8,566.0 622.0,566.0 623.7,567.0 624.7,570.0 625.0,575.0 628.5,575.0 630.2,577.0 632.2,577.0 633.4,575.2 636.2,574.0 638.2,571.2 639.2,570.0 643.9,570.0 644.6,572.0 645.4,570.0 646.1,563.8 647.1,557.1 648.1,554.3 649.4,553.1 654.1,553.1 654.8,554.3 655.8,559.1 656.1,574.0 656.8,574.7 656.8,578.7 632.2,578.7 630.0,577.2 629.7,578.7 617.3,578.7 615.3,576.7 611.3,578.0 610.5,578.7 604.3,578.7 601.3,576.2 597.4,575.7 595.9,574.2 595.1,573.0 594.9,568.8 592.4,568.8 591.4,566.5 590.9,564.0 589.4,563.8 587.9,562.8 587.2,560.8 586.9,556.3 586.2,554.8 585.2,554.1 583.2,551.8 583.2,548.1 579.2,547.9 578.0,545.9 575.0,543.9 574.0,541.6 573.2,535.9 572.2,530.7 571.0,527.5 570.0,524.0 570.0,520.0" fill="#000000" clip-path="url(#cp1)"/>
<polygon points="1040.0,424.9 1042.0,424.9 1042.2,420.1 1043.1,418.1 1045.1,417.0 1048.1,417.0 1048.3,415.0 1049.4,414.1 1053.9,414.1 1054.1,412.1 1055.9,411.9 1056.1,410.1 1057.0,409.9 1057.2,406.3 1058.1,404.0 1063.7,404.0 1064.2,402.0 1065.3,400.9 1067.1,400.9 1067.1,396.2 1068.4,395.1 1070.2,394.0 1072.0,393.7 1073.1,391.5 1074.5,390.1 1076.9,390.1 1077.2,387.0 1078.5,385.9 1081.9,385.9 1082.5,387.0 1083.2,386.1 1084.8,385.9 1085.9,385.0 1086.8,385.0 1087.5,385.9 1088.8,385.9 1089.7,384.8 1090.1,382.1 1091.5,381.0 1092.8,381.0 1094.0,380.1 1094.2,378.1 1096.0,376.9 1098.0,376.9 1098.2,375.1 1100.2,374.0 1102.7,374.0 1103.6,372.9 1105.8,372.9 1107.2,374.3 1107.8,376.0 1108.3,379.0 1109.0,381.9 1110.5,381.9 1111.2,380.3 1113.2,378.1 1115.7,378.1 1117.9,379.2 1118.1,381.0 1121.9,381.2 1123.7,383.2 1119.3,412.5 1119.0,404.0 1118.1,403.8 1117.9,391.9 1115.7,391.9 1115.9,397.5 1113.7,399.8 1111.2,399.8 1109.0,397.5 1108.7,391.9 1107.2,389.7 1105.1,388.8 1102.9,387.0 1102.0,385.9 1099.1,385.9 1097.8,387.2 1098.0,390.8 1096.0,390.8 1094.9,393.3 1094.9,403.6 1093.7,405.8 1089.3,405.8 1086.1,402.7 1084.8,399.8 1082.3,399.8 1081.9,401.6 1080.5,402.9 1074.7,402.9 1074.9,408.5 1072.7,410.7 1070.0,410.7 1068.9,409.9 1068.9,412.3 1068.0,413.0 1068.0,419.5 1065.7,421.9 1063.3,421.9 1061.0,419.7 1061.0,418.4 1059.9,417.9 1059.7,421.5 1058.8,421.9 1058.6,425.7 1056.6,427.8 1054.3,427.8 1053.9,426.9 1049.6,426.9 1048.1,428.0 1047.8,430.0 1045.8,432.5 1043.8,433.1 1043.1,438.5 1040.0,438.7" fill="#ff0000" clip-path="url(#cp2)"/>
<polygon points="372.5,513.2 376.0,511.1 380.0,511.1 380.8,513.9 382.9,515.3 383.9,519.9 386.7,519.0 394.7,519.0 396.1,521.9 398.6,520.0 402.7,520.0 403.8,523.7 405.9,525.4 406.9,530.0 410.0,531.0 411.1,520.9 412.1,504.2 418.0,516.7 417.0,527.5 415.3,534.8 410.8,539.7 404.8,539.7 402.0,536.6 398.6,534.8 396.5,534.8 393.7,531.7 391.6,533.8 388.1,533.8 384.6,531.7 378.4,531.7 378.0,535.2 375.6,537.8 372.5,537.8" fill="#000000" clip-path="url(#cp1)"/>
<polygon points="995.7,545.2 998.0,544.1 1000.2,543.0 1004.9,543.0 1005.4,544.9 1007.4,547.2 1008.2,545.9 1009.7,545.9 1011.6,547.0 1015.6,551.0 1016.2,543.9 1017.2,531.1 1018.2,524.1 1019.2,520.0 1025.7,521.6 1024.8,528.9 1023.8,539.7 1022.8,551.8 1021.8,561.6 1019.8,564.9 1016.9,565.9 1014.3,565.9 1012.3,564.9 1011.0,562.6 1010.3,559.0 1010.0,556.1 1008.7,555.1 1000.8,555.1 1000.8,557.7 999.8,558.7 995.7,558.7" fill="#ff0000" clip-path="url(#cp2)"/>
<line x1="726.50" y1="141.50" x2="773.40" y2="141.50" stroke="#000" stroke-width="7" stroke-linecap="round"/>
<text transform="translate(779.35,149.89) scale(0.8177,1)" font-size="31.82" font-weight="bold" fill="#000">Acetone</text>
<line x1="1366.40" y1="133.30" x2="1413.60" y2="133.30" stroke="#ff0000" stroke-width="6.8" stroke-linecap="round"/>
<text transform="translate(1427.07,141.61) scale(0.8627,1)" font-size="29.96" font-weight="bold" fill="#000">Ethanol</text>
<line x1="819.40" y1="650.40" x2="867.50" y2="650.40" stroke="#0000ff" stroke-width="7" stroke-linecap="round"/>
<text transform="translate(880.91,658.79) scale(0.8490,1)" font-size="31.50" font-weight="bold" fill="#000">NO</text>
<line x1="1325.30" y1="627.40" x2="1376.00" y2="627.40" stroke="#ff00ff" stroke-width="7" stroke-linecap="round"/>
<text transform="translate(1381.06,635.70) scale(0.8337,1)" font-size="31.21" font-weight="bold" fill="#000">NO</text>
<text transform="translate(1418.75,648.00) scale(1.0139,1)" font-size="18.62" font-weight="normal" fill="#000">2</text>
<text transform="translate(909.33,1197.03) scale(0.8877,1)" font-size="37.44" font-weight="bold" fill="#000">Time (s)</text>
<text transform="translate(297.96,818.40) rotate(-90) scale(0.9958,1)" font-size="37.48" font-weight="bold">Resistance Change ΔR (kΩ)</text>
<text transform="translate(407.67,279.82) rotate(-90) scale(0.9988,1)" font-size="29.85" font-weight="bold">gas on</text>
<text transform="translate(551.66,245.02) rotate(-90) scale(0.9976,1)" font-size="29.90" font-weight="bold">gas off</text>
<text transform="translate(1026.64,283.21) rotate(-90) scale(1.0175,1)" font-size="29.05" font-weight="bold">gas on</text>
<text transform="translate(1134.44,295.73) rotate(-90) scale(0.9982,1)" font-size="30.00" font-weight="bold">gas off</text>
<text transform="translate(422.26,951.93) rotate(-90) scale(1.0211,1)" font-size="29.45" font-weight="bold">gas on</text>
<text transform="translate(688.72,738.03) rotate(-90) scale(0.9936,1)" font-size="30.11" font-weight="bold">gas off</text>
<text transform="translate(1062.80,929.41) rotate(-90) scale(0.9957,1)" font-size="29.71" font-weight="bold">gas on</text>
<text transform="translate(1179.45,701.34) rotate(-90) scale(1.0225,1)" font-size="29.47" font-weight="bold">gas off</text>
<line x1="399.10" y1="335.00" x2="401.49" y2="410.90" stroke="#000" stroke-width="1.6" stroke-linecap="butt"/>
<polygon points="401.80,420.90 397.82,409.02 405.02,408.79" fill="#000"/>
<line x1="534.70" y1="248.20" x2="537.08" y2="323.21" stroke="#000" stroke-width="1.6" stroke-linecap="butt"/>
<polygon points="537.40,333.20 533.42,321.32 540.62,321.09" fill="#000"/>
<line x1="1021.90" y1="335.20" x2="1023.58" y2="409.90" stroke="#000" stroke-width="1.6" stroke-linecap="butt"/>
<polygon points="1023.80,419.90 1019.93,407.98 1027.13,407.82" fill="#000"/>
<line x1="1120.80" y1="295.20" x2="1122.48" y2="370.30" stroke="#000" stroke-width="1.6" stroke-linecap="butt"/>
<polygon points="1122.70,380.30 1118.83,368.38 1126.03,368.22" fill="#000"/>
<line x1="417.40" y1="1002.50" x2="420.32" y2="1078.61" stroke="#000" stroke-width="1.6" stroke-linecap="butt"/>
<polygon points="420.70,1088.60 416.64,1076.75 423.84,1076.47" fill="#000"/>
<line x1="679.20" y1="737.30" x2="683.91" y2="746.67" stroke="#000" stroke-width="1.6" stroke-linecap="butt"/>
<polygon points="688.40,755.60 679.79,746.50 686.23,743.26" fill="#000"/>
<line x1="1058.40" y1="981.00" x2="1060.34" y2="1057.20" stroke="#000" stroke-width="1.6" stroke-linecap="butt"/>
<polygon points="1060.60,1067.20 1056.70,1055.30 1063.89,1055.11" fill="#000"/>
<line x1="1166.30" y1="700.10" x2="1168.68" y2="775.21" stroke="#000" stroke-width="1.6" stroke-linecap="butt"/>
<polygon points="1169.00,785.20 1165.02,773.32 1172.22,773.09" fill="#000"/>
</svg>
</body></html>
